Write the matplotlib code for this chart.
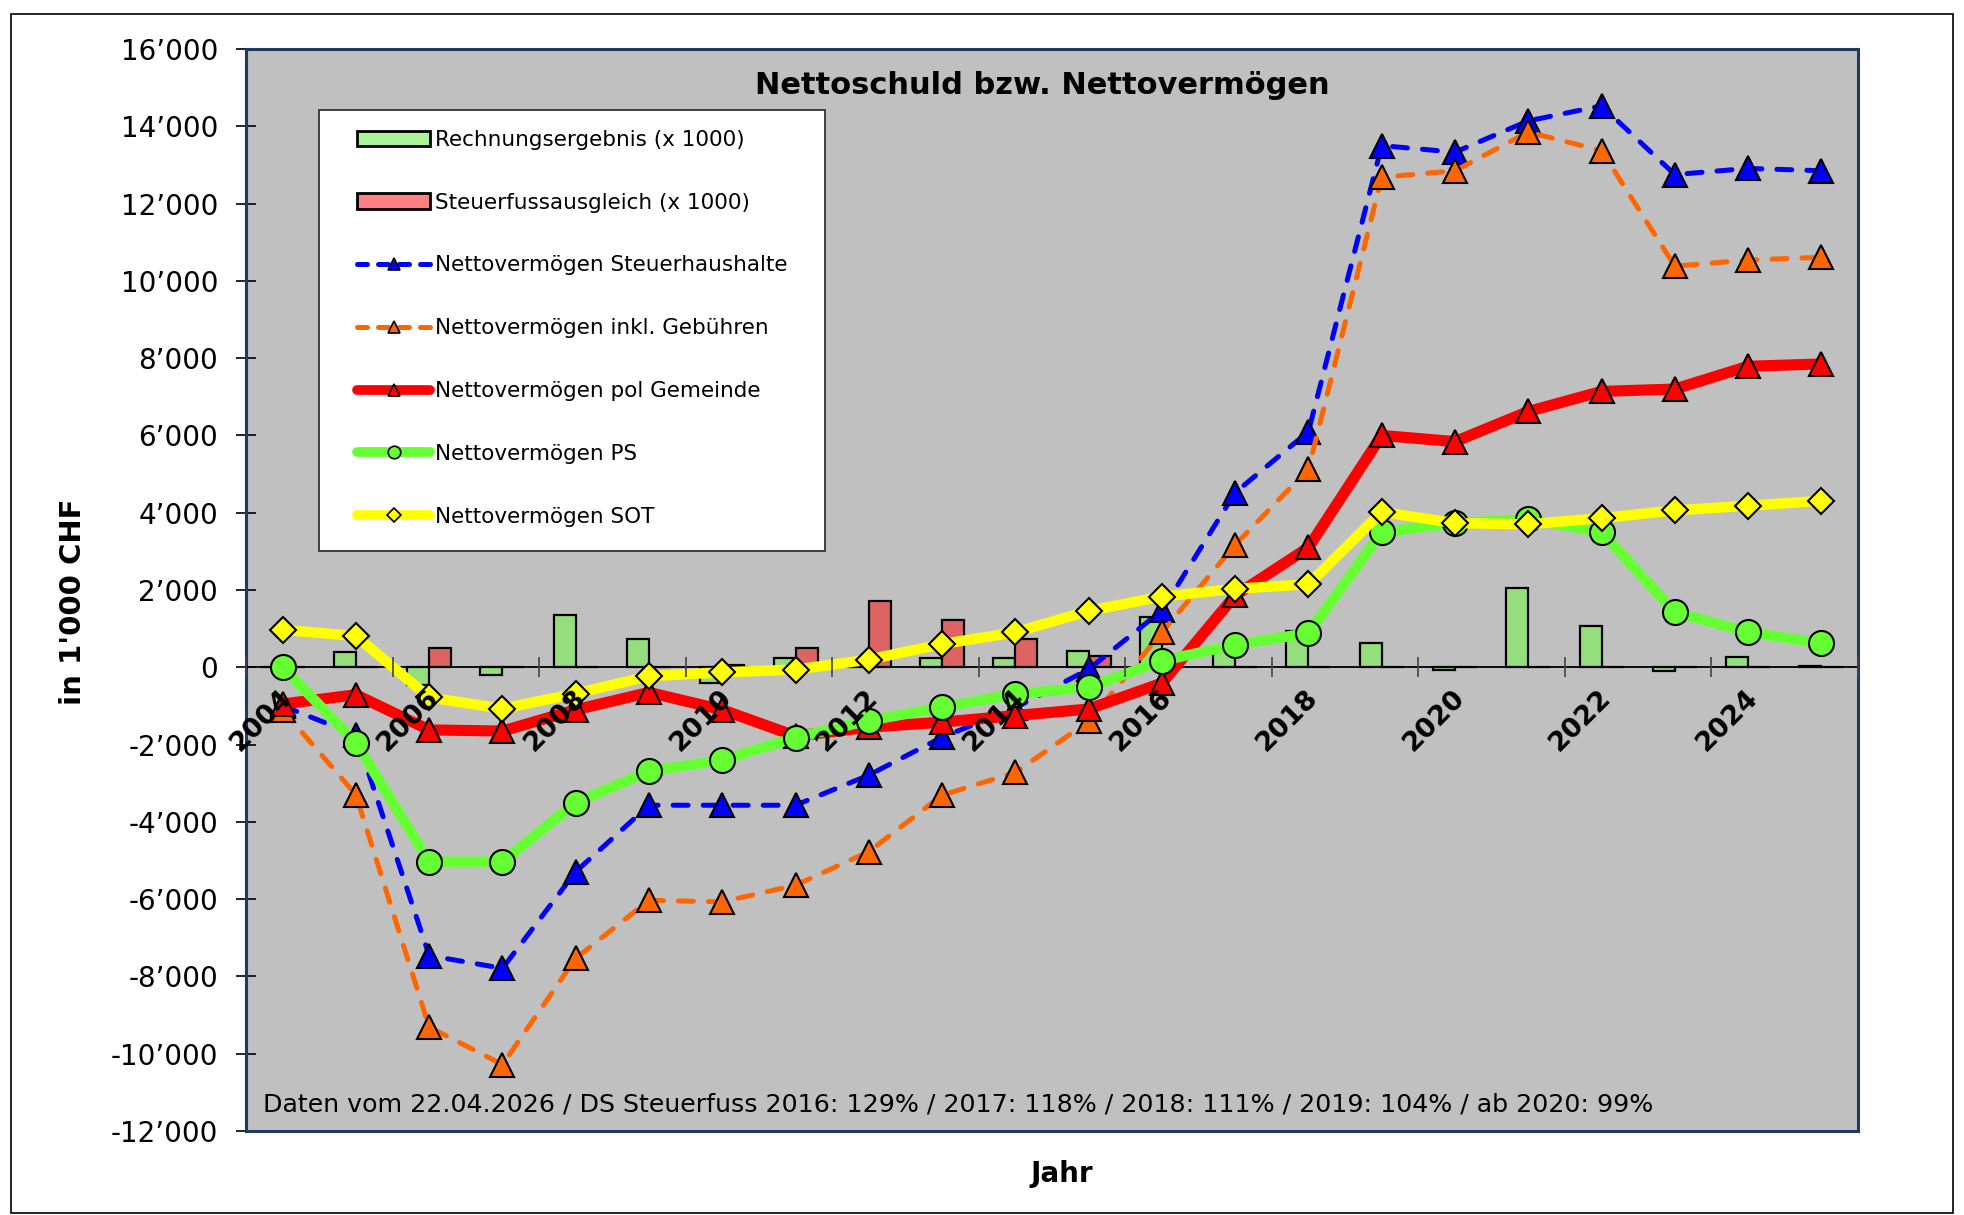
import matplotlib
matplotlib.use("Agg")
import matplotlib.pyplot as plt
from matplotlib.patches import Patch, Rectangle
from matplotlib.lines import Line2D
from matplotlib.ticker import FuncFormatter, FixedLocator
import numpy as np

plt.rcParams['font.family'] = ['DejaVu Sans']

# ---------------- data ----------------
years = list(range(2004, 2026))
rechnung = [20, 390, -460, -200, 1350, 720, -400, 230, 0, 230, 230, 410,
            1290, 450, 950, 640, -60, 2040, 1075, -100, 270, 40]
steuerausgleich = [0, 0, 490, 0, 0, 0, 60, 510, 1715, 1230, 730, 300,
                   0, 0, 0, 0, 0, 0, 0, 0, 0, 0]
nv_steuer = [-1000, -1750, -7460, -7790, -5290, -3570, -3570, -3570, -2790, -1810,
             -1050, -50, 1470, 4520, 6100, 13500, 13330, 14140, 14530, 12750, 12910, 12850]
nv_gebuehren = [-1100, -3300, -9310, -10280, -7530, -6030, -6070, -5640, -4770, -3310,
                -2720, -1400, 905, 3170, 5130, 12680, 12850, 13850, 13370, 10380, 10540, 10610]
nv_gemeinde = [-950, -710, -1620, -1650, -1100, -650, -1100, -1780, -1550, -1420,
               -1250, -1080, -410, 1860, 3100, 6000, 5840, 6620, 7140, 7200, 7790, 7850]
nv_ps = [0, -1950, -5030, -5030, -3500, -2690, -2400, -1820, -1380, -1035,
         -690, -517, 170, 580, 885, 3500, 3730, 3830, 3500, 1430, 910, 620]
nv_sot = [970, 810, -780, -1070, -680, -230, -130, -60, 200, 600,
          905, 1460, 1830, 2030, 2150, 4020, 3730, 3700, 3860, 4060, 4180, 4310]

labels = ["Rechnungsergebnis (x 1000)", "Steuerfussausgleich (x 1000)",
          "Nettovermögen Steuerhaushalte", "Nettovermögen inkl. Gebühren",
          "Nettovermögen pol Gemeinde", "Nettovermögen PS", "Nettovermögen SOT"]
title = "Nettoschuld bzw. Nettovermögen"
note = ("Daten vom 22.04.2026 / DS Steuerfuss 2016: 129% / 2017: 118% / "
        "2018: 111% / 2019: 104% / ab 2020: 99%")
yticks = list(range(-12000, 16001, 2000))

# ---------------- figure ----------------
W, H = 1964, 1215
fig = plt.figure(figsize=(W / 100, H / 100), dpi=100)
fig.patch.set_facecolor('white')

# outer border
fig.add_artist(Rectangle((11 / W, 2 / H), (1953 - 11) / W, (1201 - 2) / H,
                         transform=fig.transFigure, fill=False,
                         edgecolor='black', lw=1.2))

AX_L, AX_T, AX_R, AX_B = 246, 49, 1858, 1131
AW, AH = AX_R - AX_L, AX_B - AX_T
ax = fig.add_axes([AX_L / W, 1 - AX_B / H, AW / W, AH / H])
ax.set_facecolor('#C0C0C0')

def axx(px):
    return (px - AX_L) / AW

def axy(py):
    return (AX_B - py) / AH

x = np.arange(len(years))
bw = 0.3
ax.bar(x - bw / 2, rechnung, width=bw, color='#95DE7D', edgecolor='black',
       linewidth=1.6, zorder=2)
ax.bar(x + bw / 2, steuerausgleich, width=bw, color='#DE6464', edgecolor='black',
       linewidth=1.6, zorder=2)

dash = (3.0, 3.0)
ax.plot(x, nv_steuer, color='#0000FF', lw=3.6, dashes=dash, dash_capstyle='round',
        marker='^', ms=17, mfc='#0000FF', mec='black', mew=1.5, zorder=3)
ax.plot(x, nv_gebuehren, color='#FF6600', lw=3.6, dashes=dash, dash_capstyle='round',
        marker='^', ms=17, mfc='#FF6600', mec='black', mew=1.5, zorder=4)
ax.plot(x, nv_gemeinde, color='#FF0000', lw=8, solid_capstyle='round',
        marker='^', ms=17, mfc='#FF0000', mec='black', mew=1.5, zorder=5)
ax.plot(x, nv_ps, color='#66FF33', lw=7.5, solid_capstyle='round',
        marker='o', ms=18, mfc='#66FF33', mec='black', mew=1.5, zorder=6)
ax.plot(x, nv_sot, color='#FFFF00', lw=7.5, solid_capstyle='round',
        marker='D', ms=13.5, mfc='#FFFF00', mec='black', mew=1.5, zorder=7)

ax.set_xlim(-0.5, len(years) - 0.5)
ax.set_ylim(yticks[0], yticks[-1])

# y axis
ax.yaxis.set_major_locator(FixedLocator(yticks))
ax.yaxis.set_major_formatter(FuncFormatter(lambda v, p: f"{int(v):,}".replace(",", "\u2019")))
ax.tick_params(axis='y', direction='inout', length=14, width=1.2, labelsize=20,
               pad=13, color='black')

# x axis at zero
ax.spines['bottom'].set_position(('data', 0))
ax.spines['bottom'].set_color('black')
ax.spines['bottom'].set_linewidth(1.3)
for s in ['left', 'right', 'top']:
    ax.spines[s].set_color('#1F3A5F')
    ax.spines[s].set_linewidth(2.2)
ax.add_line(Line2D([0, 1], [0, 0], transform=ax.transAxes, color='#1F3A5F',
                   lw=2.2, clip_on=False, zorder=10))

ax.set_xticks(np.arange(-0.5, len(years), 2))
ax.set_xticklabels([])
ax.tick_params(axis='x', which='major', direction='inout', length=14, width=1.2,
               color='#444444')
ax.set_xticks(x[::2] + 0.08, minor=True)
ax.set_xticklabels([str(y) for y in years[::2]], minor=True, rotation=45,
                   ha='right', va='center', rotation_mode='anchor',
                   fontweight='bold', fontsize=19.5)
ax.tick_params(axis='x', which='minor', length=0, pad=19)
ax.xaxis.set_zorder(8)

ax.set_ylabel("in 1'000 CHF", fontsize=21, fontweight='bold')
ax.yaxis.set_label_coords(axx(87), 0.489)
fig.text(1062 / W, 1 - 1174 / H, "Jahr", fontsize=20, fontweight='bold',
         ha='center', va='center')

ax.text(axx(1042), axy(85), title, transform=ax.transAxes, fontsize=22,
        fontweight='bold', ha='center', va='center', zorder=9)
ax.text(axx(263), axy(1104), note, transform=ax.transAxes, fontsize=18.2,
        ha='left', va='center', zorder=9)

# legend frame
ax.add_patch(Rectangle((axx(319), axy(551)), axx(825) - axx(319), axy(110) - axy(551),
                       transform=ax.transAxes, facecolor='white',
                       edgecolor='#333333', lw=1.3, zorder=19))

handles = [
    Patch(facecolor='#AAF59A', edgecolor='black', linewidth=2),
    Patch(facecolor='#FF8080', edgecolor='black', linewidth=2),
    Line2D([], [], color='#0000FF', lw=3.6, dashes=(2.0, 2.2), dash_capstyle='round',
           marker='^', ms=9, mfc='#0000FF', mec='black', mew=1.2),
    Line2D([], [], color='#FF6600', lw=3.6, dashes=(2.0, 2.2), dash_capstyle='round',
           marker='^', ms=9, mfc='#FF6600', mec='black', mew=1.2),
    Line2D([], [], color='#FF0000', lw=7, solid_capstyle='round',
           marker='^', ms=9, mfc='#FF0000', mec='black', mew=1.2),
    Line2D([], [], color='#66FF33', lw=7, solid_capstyle='round',
           marker='o', ms=9, mfc='#66FF33', mec='black', mew=1.2),
    Line2D([], [], color='#FFFF00', lw=7, solid_capstyle='round',
           marker='D', ms=7, mfc='#FFFF00', mec='black', mew=1.2),
]
fs = 15.5
leg = ax.legend(handles, labels, loc='upper left',
                bbox_to_anchor=(axx(357), axy(129.7)),
                borderaxespad=0, borderpad=0, fontsize=fs, frameon=False,
                labelspacing=1.99, handlelength=3.4, handletextpad=0.23)
leg.set_zorder(20)

fig.savefig("out.png", dpi=100)
